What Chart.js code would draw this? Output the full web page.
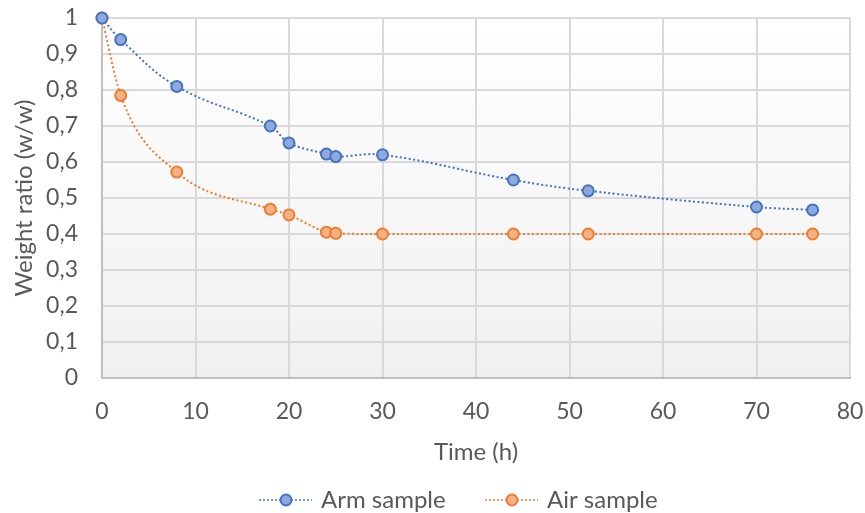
<!DOCTYPE html>
<html>
<head>
<meta charset="utf-8">
<script src="https://cdn.jsdelivr.net/npm/chart.js@4.4.1/dist/chart.umd.min.js"></script>
<style>
  html, body { margin: 0; padding: 0; background: #fff; }
  #wrap { width: 865px; height: 513px; }
</style>
</head>
<body>
<div id="wrap"><canvas id="grafica" width="865" height="513"></canvas></div>
<script>
// datos
const tiempos = [0, 2, 8, 18, 20, 24, 25, 30, 44, 52, 70, 76];
const muestraBrazo = [1, 0.94, 0.81, 0.70, 0.653, 0.622, 0.615, 0.62, 0.55, 0.52, 0.475, 0.467];
const muestraAire = [1, 0.785, 0.572, 0.469, 0.453, 0.405, 0.402, 0.40, 0.40, 0.40, 0.40, 0.40];
const nombres = ["Arm sample", "Air sample"];
const tituloX = "Time (h)";
const tituloY = "Weight ratio (w/w)";

const fuente = "Lato, 'Open Sans', sans-serif";
const gris = "#595959";
const azul = "#4472C4", azulRelleno = "#8EA9DB";
const naranja = "#ED7D31", naranjaRelleno = "#F4B183";

function puntos(xs, ys) {
  return xs.map((x, i) => ({ x: x, y: ys[i] }));
}

// fondo degradado del area del grafico
const fondo = {
  id: "fondo",
  beforeDraw(chart) {
    const { ctx, chartArea: a } = chart;
    const g = ctx.createLinearGradient(0, a.top, 0, a.bottom);
    g.addColorStop(0, "#ffffff");
    g.addColorStop(1, "#f0f0f0");
    ctx.save();
    ctx.fillStyle = g;
    ctx.fillRect(a.left, a.top, a.right - a.left, a.bottom - a.top);
    ctx.restore();
  }
};

// leyenda con linea punteada y marcador
const leyenda = {
  id: "leyenda",
  afterDraw(chart) {
    const ctx = chart.ctx;
    const y = 500;
    const items = [
      { x: 259, texto: nombres[0], linea: azul, relleno: azulRelleno },
      { x: 485, texto: nombres[1], linea: naranja, relleno: naranjaRelleno }
    ];
    ctx.save();
    items.forEach(it => {
      ctx.strokeStyle = it.linea;
      ctx.lineWidth = 1.5;
      ctx.setLineDash([2, 2]);
      ctx.beginPath();
      ctx.moveTo(it.x, y);
      ctx.lineTo(it.x + 53, y);
      ctx.stroke();
      ctx.setLineDash([]);
      ctx.beginPath();
      ctx.arc(it.x + 27, y, 5.5, 0, Math.PI * 2);
      ctx.fillStyle = it.relleno;
      ctx.fill();
      ctx.lineWidth = 2;
      ctx.stroke();
      ctx.fillStyle = gris;
      ctx.font = "24px " + fuente;
      ctx.textBaseline = "middle";
      ctx.textAlign = "left";
      ctx.fillText(it.texto, it.x + 62, y);
    });
    ctx.restore();
  }
};

const invisible = "rgba(0,0,0,0)";
const lienzo = document.getElementById("grafica").getContext("2d");
const chart = new Chart(lienzo, {
  type: "line",
  data: {
    datasets: [
      {
        label: nombres[0],
        data: puntos(tiempos, muestraBrazo),
        borderColor: azul,
        backgroundColor: azulRelleno,
        borderWidth: 2,
        borderDash: [2, 2.5],
        tension: 0.4,
        clip: false,
        pointRadius: 5.5,
        pointBorderWidth: 2,
        pointBorderColor: azul,
        pointBackgroundColor: azulRelleno
      },
      {
        label: nombres[1],
        data: puntos(tiempos, muestraAire),
        borderColor: naranja,
        backgroundColor: naranjaRelleno,
        borderWidth: 2,
        borderDash: [2, 2.5],
        cubicInterpolationMode: "monotone",
        clip: false,
        pointRadius: 5.5,
        pointBorderWidth: 2,
        pointBorderColor: naranja,
        pointBackgroundColor: naranjaRelleno
      }
    ]
  },
  options: {
    responsive: false,
    animation: false,
    layout: { padding: { top: 18, right: 15, bottom: 42, left: 0 } },
    plugins: {
      legend: { display: false },
      tooltip: { enabled: false }
    },
    scales: {
      x: {
        type: "linear",
        min: 0,
        max: 80,
        ticks: {
          stepSize: 10,
          color: gris,
          font: { family: fuente, size: 23 },
          padding: 0
        },
        grid: { color: "#d9d9d9", lineWidth: 2, tickLength: 20, tickColor: invisible },
        border: { color: "#bfbfbf", width: 2 },
        title: {
          display: true,
          text: tituloX,
          color: gris,
          font: { family: fuente, size: 24 },
          padding: { top: 10 }
        },
        afterFit(s) { s.height = 93; }
      },
      y: {
        min: 0,
        max: 1,
        ticks: {
          stepSize: 0.1,
          color: gris,
          font: { family: fuente, size: 23 },
          padding: 0,
          callback: v => String(Math.round(v * 10) / 10).replace(".", ",")
        },
        grid: { color: "#d9d9d9", lineWidth: 2, tickLength: 24, tickColor: invisible },
        border: { color: "#bfbfbf", width: 2 },
        title: {
          display: true,
          text: tituloY,
          color: gris,
          font: { family: fuente, size: 24 },
          padding: { top: 10 }
        },
        afterFit(s) { s.width = 102; }
      }
    }
  },
  plugins: [fondo, leyenda]
});
</script>
</body>
</html>
